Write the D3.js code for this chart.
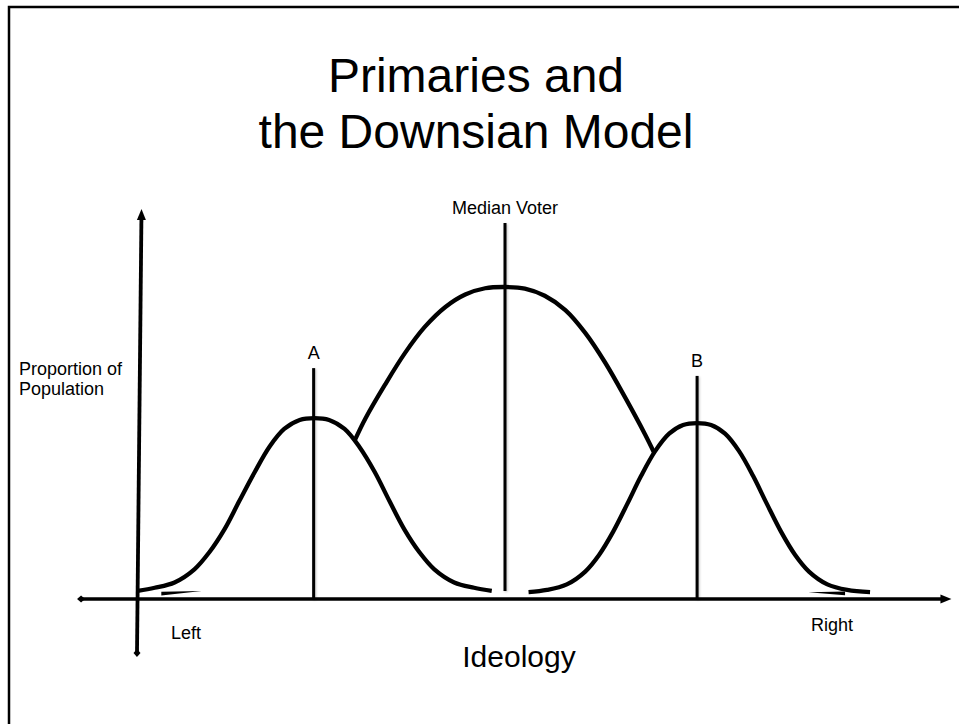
<!DOCTYPE html>
<html>
<head>
<meta charset="utf-8">
<script src="https://cdn.jsdelivr.net/npm/d3@7"></script>
<style>
  body { margin: 0; background: #fff; }
  text { font-family: Helvetica, Arial, "Liberation Sans", sans-serif; fill: #000; }
</style>
</head>
<body>
<script>
// ideology runs 0..100 (left..right), height is share of population, 100 = median peak
const titleLines = ["Primaries and", "the Downsian Model"];
const yLabelLines = ["Proportion of", "Population"];
const xLabel = "Ideology";
const endLabels = ["Left", "Right"];

const leftBell = [
    [0.1, 2.6], [2.4, 3.6], [5.1, 5.3], [7.8, 9.5], [9.8, 14.9], [11.9, 22.4],
    [13.9, 31.4], [16.0, 40.7], [18.0, 48.8], [20.0, 54.5], [22.1, 57.4], [24.1, 58.0],
    [26.1, 57.4], [28.2, 54.5], [30.2, 48.8], [32.3, 40.7], [34.3, 31.4], [36.3, 22.4],
    [38.4, 14.9], [40.4, 9.5], [43.1, 5.3], [45.8, 3.6], [48.2, 2.6]
];
const medianCurve = [
    [29.6, 50.9], [31.0, 57.7], [33.7, 68.7], [36.4, 78.8], [39.1, 87.2], [41.9, 93.6],
    [44.6, 97.6], [47.3, 99.6], [50.0, 100], [52.7, 99.5], [55.4, 97.2], [58.2, 92.6],
    [60.9, 85.3], [63.6, 75.8], [66.3, 64.7], [69.0, 52.9], [70.2, 47.2]
];
const rightBell = [
    [53.2, 2.2], [55.7, 2.9], [58.4, 4.7], [60.9, 8.8], [62.8, 14.2], [64.7, 21.6],
    [66.6, 30.4], [68.5, 39.5], [70.4, 47.4], [72.3, 53.0], [74.2, 55.8], [76.1, 56.4],
    [78.0, 55.8], [79.9, 53.0], [81.8, 47.4], [83.7, 39.5], [85.6, 30.4], [87.5, 21.6],
    [89.4, 14.2], [91.3, 8.8], [93.8, 4.7], [96.5, 2.9], [99.6, 2.2]
];

const candidates = ["A", "Median Voter", "B"];
const candidatePos = [24.0, 50.0, 76.1];
const candidateTop = [74.0, 120.5, 71.5];
const candidateBottom = [0, 2.6, 0];

// little leftover slivers at the tails
const slivers = [
    [[3.3, 2.3], [8.8, 2.6], [3.3, 1.1]],
    [[91.2, 2.2], [96.2, 2.4], [96.2, 1.2]]
];

const width = 959, height = 724;

const svg = d3.select("body").append("svg")
    .attr("width", width)
    .attr("height", height);

const x = d3.scaleLinear().domain([0, 100]).range([137, 873]);
const y = d3.scaleLinear().domain([0, 100]).range([599, 287]);

// slide frame
svg.append("rect")
    .attr("x", 9).attr("y", 7)
    .attr("width", width + 20).attr("height", height + 20)
    .attr("fill", "none").attr("stroke", "#000").attr("stroke-width", 2.5);

let defs = svg.append("defs");

defs.append("marker")
    .attr("id", "arrow")
    .attr("markerUnits", "userSpaceOnUse")
    .attr("viewBox", "0 -6 14 12")
    .attr("markerWidth", 14).attr("markerHeight", 12)
    .attr("refX", 1).attr("refY", 0)
    .attr("orient", "auto")
    .append("path").attr("d", "M0,-4.5L11,0L0,4.5Z").attr("fill", "#000");

defs.append("marker")
    .attr("id", "diamond")
    .attr("markerUnits", "userSpaceOnUse")
    .attr("viewBox", "-5 -5 10 10")
    .attr("markerWidth", 10).attr("markerHeight", 10)
    .attr("refX", 0).attr("refY", 0)
    .attr("orient", "auto")
    .append("path").attr("d", "M-4,0L0,-3.5L4,0L0,3.5Z").attr("fill", "#000");

// soft shadow like the slide lines; user space so zero-width lines still render
let shadow = defs.append("filter").attr("id", "shadow")
    .attr("filterUnits", "userSpaceOnUse")
    .attr("x", 0).attr("y", 0).attr("width", width).attr("height", height);
shadow.append("feDropShadow")
    .attr("dx", 1).attr("dy", 1).attr("stdDeviation", 1.2)
    .attr("flood-color", "#000").attr("flood-opacity", 0.22);

// axes
svg.append("line")
    .attr("x1", x(-7.6)).attr("y1", y(0))
    .attr("x2", x(109.3)).attr("y2", y(0))
    .attr("stroke", "#000").attr("stroke-width", 3.6)
    .attr("marker-start", "url(#diamond)")
    .attr("marker-end", "url(#arrow)");

svg.append("line")
    .attr("x1", x(0)).attr("y1", y(-17.3))
    .attr("x2", x(0.6)).attr("y2", y(121.8))
    .attr("stroke", "#000").attr("stroke-width", 3.8)
    .attr("marker-start", "url(#diamond)")
    .attr("marker-end", "url(#arrow)");

// candidate / median lines
candidates.forEach((name, i) => {
    svg.append("line")
        .attr("x1", x(candidatePos[i])).attr("y1", y(candidateTop[i]))
        .attr("x2", x(candidatePos[i])).attr("y2", y(candidateBottom[i]))
        .attr("stroke", "#000").attr("stroke-width", 3)
        .attr("filter", "url(#shadow)");

    svg.append("text")
        .attr("x", x(candidatePos[i]))
        .attr("y", y(candidateTop[i]) - 9)
        .attr("text-anchor", "middle")
        .attr("font-size", 18)
        .text(name);
});

// distributions
let line = d3.line()
    .x(d => x(d[0]))
    .y(d => y(d[1]))
    .curve(d3.curveCatmullRom.alpha(0.5));

[leftBell, medianCurve, rightBell].forEach(pts => {
    svg.append("path")
        .attr("d", line(pts))
        .attr("fill", "none")
        .attr("stroke", "#000")
        .attr("stroke-width", 4.3)
        .attr("stroke-linecap", "butt");
});

svg.selectAll(".sliver")
    .data(slivers)
    .join("path")
    .attr("class", "sliver")
    .attr("d", d => "M" + d.map(p => x(p[0]) + "," + y(p[1])).join("L") + "Z")
    .attr("fill", "#000");

// text
svg.selectAll(".title")
    .data(titleLines)
    .join("text")
    .attr("class", "title")
    .attr("x", 476)
    .attr("y", (d, i) => 92 + i * 56)
    .attr("text-anchor", "middle")
    .attr("font-size", 48)
    .text(d => d);

svg.selectAll(".ylab")
    .data(yLabelLines)
    .join("text")
    .attr("class", "ylab")
    .attr("x", 19)
    .attr("y", (d, i) => 375 + i * 20)
    .attr("font-size", 18)
    .text(d => d);

svg.append("text")
    .attr("x", 171).attr("y", 639)
    .attr("font-size", 18)
    .text(endLabels[0]);

svg.append("text")
    .attr("x", 811).attr("y", 631)
    .attr("font-size", 18)
    .text(endLabels[1]);

svg.append("text")
    .attr("x", 519).attr("y", 667)
    .attr("text-anchor", "middle")
    .attr("font-size", 30)
    .text(xLabel);
</script>
</body>
</html>
